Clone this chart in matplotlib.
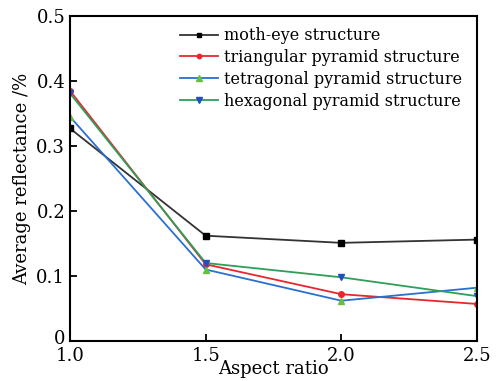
import matplotlib
matplotlib.use("Agg")
import matplotlib.pyplot as plt
from matplotlib.transforms import ScaledTranslation

aspect = [1.0, 1.5, 2.0, 2.5]
moth_eye = [0.327, 0.162, 0.151, 0.156]
triangular = [0.385, 0.118, 0.072, 0.057]
tetragonal = [0.345, 0.110, 0.062, 0.082]
hexagonal = [0.381, 0.120, 0.098, 0.069]
labels = ["moth-eye structure", "triangular pyramid structure",
          "tetragonal pyramid structure", "hexagonal pyramid structure"]

plt.rcParams['font.family'] = ['DejaVu Serif']
fig = plt.figure(figsize=(4.97, 3.81), dpi=100)
ax = fig.add_axes([70/497, 1-341/381, 407/497, 325/381])

ax.plot(aspect, moth_eye, color='#333333', lw=1.3, marker='s', ms=4,
        mfc='black', mec='black', label=labels[0])
ax.plot(aspect, triangular, color='#e8262d', lw=1.3, marker='o', ms=4,
        mfc='#e8262d', mec='#e8262d', label=labels[1])
ax.plot(aspect, tetragonal, color='#2b6fd1', lw=1.3, marker='^', ms=5,
        mfc='#66c13a', mec='#66c13a', label=labels[2])
ax.plot(aspect, hexagonal, color='#2e9e58', lw=1.3, marker='v', ms=5,
        mfc='#1f4fc0', mec='#1f4fc0', label=labels[3])

ax.set_xlim(1.0, 2.5)
ax.set_ylim(0, 0.5)
ax.set_xticks([1.0, 1.5, 2.0, 2.5])
ax.set_xticklabels(['1.0', '1.5', '2.0', '2.5'])
ax.set_yticks([0, 0.1, 0.2, 0.3, 0.4, 0.5])
ax.set_yticklabels(['0', '0.1', '0.2', '0.3', '0.4', '0.5'])
ax.tick_params(direction='in', length=5, width=1.3, labelsize=13)
ax.tick_params(axis='x', pad=4)
for s in ax.spines.values():
    s.set_linewidth(1.5)

zero_lbl = ax.get_yticklabels()[0]
zero_lbl.set_transform(zero_lbl.get_transform() +
                       ScaledTranslation(0, 3/72, fig.dpi_scale_trans))

ax.set_xlabel('Aspect ratio', fontsize=13, labelpad=-3)
ax.set_ylabel('Average reflectance /%', fontsize=13, labelpad=4)
ax.legend(loc='upper right', bbox_to_anchor=(0.99, 1.0), frameon=False,
          fontsize=11.5, handlelength=2.4, markerscale=0.8,
          handletextpad=0.35, labelspacing=0.3, borderaxespad=0.3)

fig.savefig('out.png', dpi=100)
